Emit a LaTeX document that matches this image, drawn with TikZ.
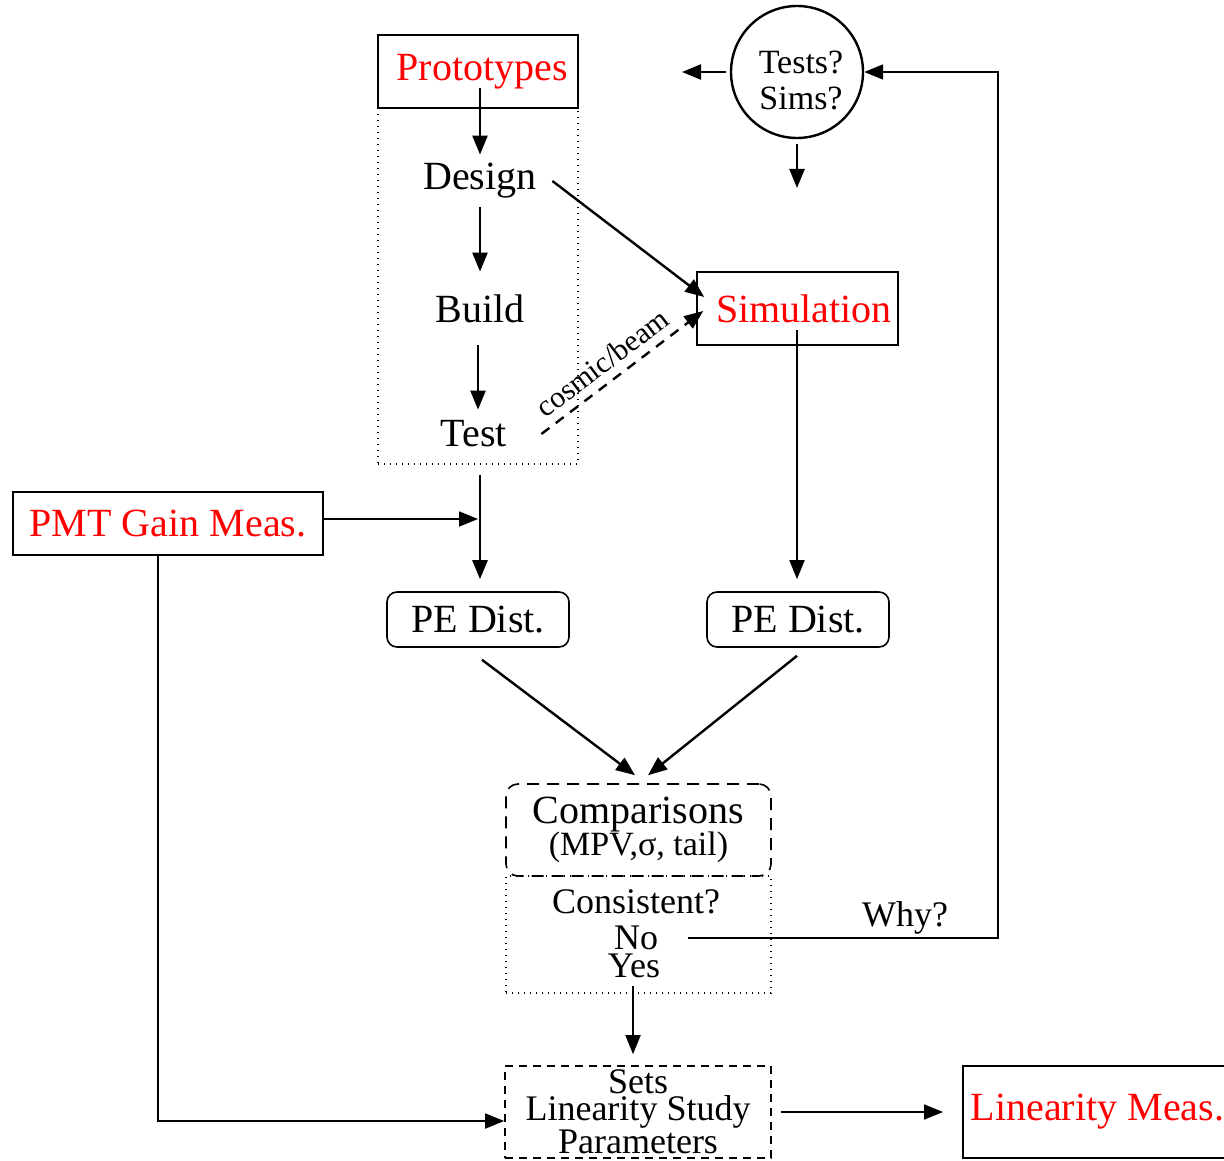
\documentclass[tikz,border=0pt]{standalone}
\usepackage{fontspec}
\setmainfont{Liberation Serif}
\usetikzlibrary{arrows.meta}
\newcommand\szMain{\fontsize{20}{22}\selectfont}
\newcommand\szMid{\fontsize{18}{20}\selectfont}
\newcommand\szSub{\fontsize{17}{18}\selectfont}
\newcommand\szSmall{\fontsize{15}{16}\selectfont}
\begin{document}
\begin{tikzpicture}[x=0.5pt,y=-0.5pt,
  arr/.style={-{Triangle[length=9.5pt,width=7.5pt]}, line width=1.2pt},
  thinarr/.style={-{Triangle[length=9.5pt,width=7.5pt]}, line width=0.9pt},
  box/.style={draw, line width=0.8pt, inner sep=0pt},
  dotbox/.style={draw, line width=0.7pt, dash pattern=on 0.7pt off 2.3pt, inner sep=0pt},
  dashbox/.style={draw, line width=0.8pt, dash pattern=on 6pt off 4pt, inner sep=0pt},
  lbl/.style={inner sep=0pt, font=\szMain},
  redtxt/.style={text=red, font=\szMain}
]
\clip (0,0) rectangle (1224,1160);
\fill[white] (0,0) rectangle (1224,1160);

% Prototypes group
\node[dotbox, minimum width=100pt, minimum height=178pt] (protogrp) at (478,286) {};
\node[box, fill=white, redtxt, minimum width=100pt, minimum height=36.5pt] (proto) at (478,71.5) {\hspace*{4pt}Prototypes};
\node[lbl, minimum width=72pt, minimum height=26pt] (design) at (480,181) {Design};
\node[lbl, minimum width=40pt, minimum height=36.5pt] (build) at (480,308.5) {Build};
\node[lbl, minimum width=63pt, minimum height=24pt] (test) at (478,434) {\hspace*{-4pt}Test};

% Simulation
\node[box, redtxt, minimum width=100.5pt, minimum height=36.5pt] (sim) at (797.5,308.5) {\hspace*{6.5pt}Simulation};

% circle
\node[draw, circle, line width=1.2pt, minimum size=66pt, inner sep=0pt] (circ) at (797,72) {};
\node[inner sep=0pt, align=center, font=\szSub] (circtxt) at (801,80) {Tests?\\Sims?};
\coordinate (circL) at (682,72);
\coordinate (circD) at (797,188);

% PMT
\node[box, redtxt, minimum width=155pt, minimum height=31.5pt] (pmt) at (168,523.5) {PMT Gain Meas.};

% PE Dist
\node[box, rounded corners=5pt, font=\szMain, minimum width=91pt, minimum height=27.5pt] (pe1) at (478,619.5) {PE Dist.};
\node[box, rounded corners=5pt, font=\szMain, minimum width=91pt, minimum height=27.5pt] (pe2) at (798,619.5) {PE Dist.};

% Comparisons
\node[dotbox, minimum width=132.5pt, minimum height=58.5pt] (cons) at (638.5,934.5) {};
\node[dashbox, rounded corners=6pt, minimum width=132.5pt, minimum height=46pt, align=center] (comp) at (638.5,830)
  {\szMain Comparisons\\[-1pt]{\szSub (MPV,σ, tail)}};
\node[inner sep=0pt, font=\szMid] (consist) at (636,902) {Consistent?};
\node[inner sep=0pt, font=\szMid] (no) at (636,938) {No};
\node[inner sep=0pt, font=\szMid] (yes) at (634,966) {Yes};
\node[inner sep=0pt, font=\szMid] (why) at (905,918) {Why?};
\coordinate (whyc) at (998,938);

% Sets
\node[draw, line width=0.8pt, dash pattern=on 4pt off 3pt, inner sep=0pt, minimum width=133pt, minimum height=46pt, align=center,
  font={\fontsize{18}{13.5}\selectfont}] (sets) at (638,1112) {Sets\\Linearity Study\\Parameters};

% Linearity Meas
\node[draw, line width=0.8pt, anchor=west, inner xsep=4pt, inner ysep=0pt, minimum height=46pt, redtxt] (lin) at (962,1112) {Linearity Meas.};

% connectors
\draw[arr] ([shift={(2,16.5)}]proto.center) -- (design.north);
\draw[arr] (design.south) -- (build.north);
\draw[arr] (build.south -| test.north) -- (test.north);
\draw[arr] (design.east) -- ([shift={(8,-11.5)}]sim.west);
\draw[arr, dash pattern=on 5pt off 4pt] (test.east) -- ([shift={(7,2.5)}]sim.west)
  node[pos=0.45, sloped, above, inner sep=4pt, font=\szSmall] (cb) {cosmic/beam};
\draw[arr] ([shift={(-4,0)}]circ.west) -- (circL);
\draw[arr] ([shift={(0,5)}]circ.south) -- (circD);
\draw[thinarr] ([shift={(-0.5,21.5)}]sim.center) -- ([shift={(-1,-12)}]pe2.north);
\draw[arr] ([shift={(2,10)}]protogrp.south) -- ([shift={(2,-12)}]pe1.north);
\draw[thinarr] ([shift={(0,-4.5)}]pmt.east) -- ([shift={(0,-4.5)}]pmt.east -| protogrp.south);
\draw[arr] ([shift={(4,12)}]pe1.south) -- ([shift={(-3.5,-8)}]comp.north);
\draw[arr] ([shift={(-1,8)}]pe2.south) -- ([shift={(9.5,-8)}]comp.north);
\draw[thinarr] ([shift={(30,0)}]no.east) -- (whyc) |- (circ.east);
\draw[thinarr] ([shift={(-5.5,-8)}]cons.south) -- ([shift={(-5,-11)}]sets.north);
\draw[thinarr] ([shift={(-10,0)}]pmt.south) |- ([shift={(0,9)}]sets.west);
\draw[thinarr] ([shift={(9,0)}]sets.east) -- ([shift={(-19,0)}]lin.west);
\end{tikzpicture}
\end{document}
